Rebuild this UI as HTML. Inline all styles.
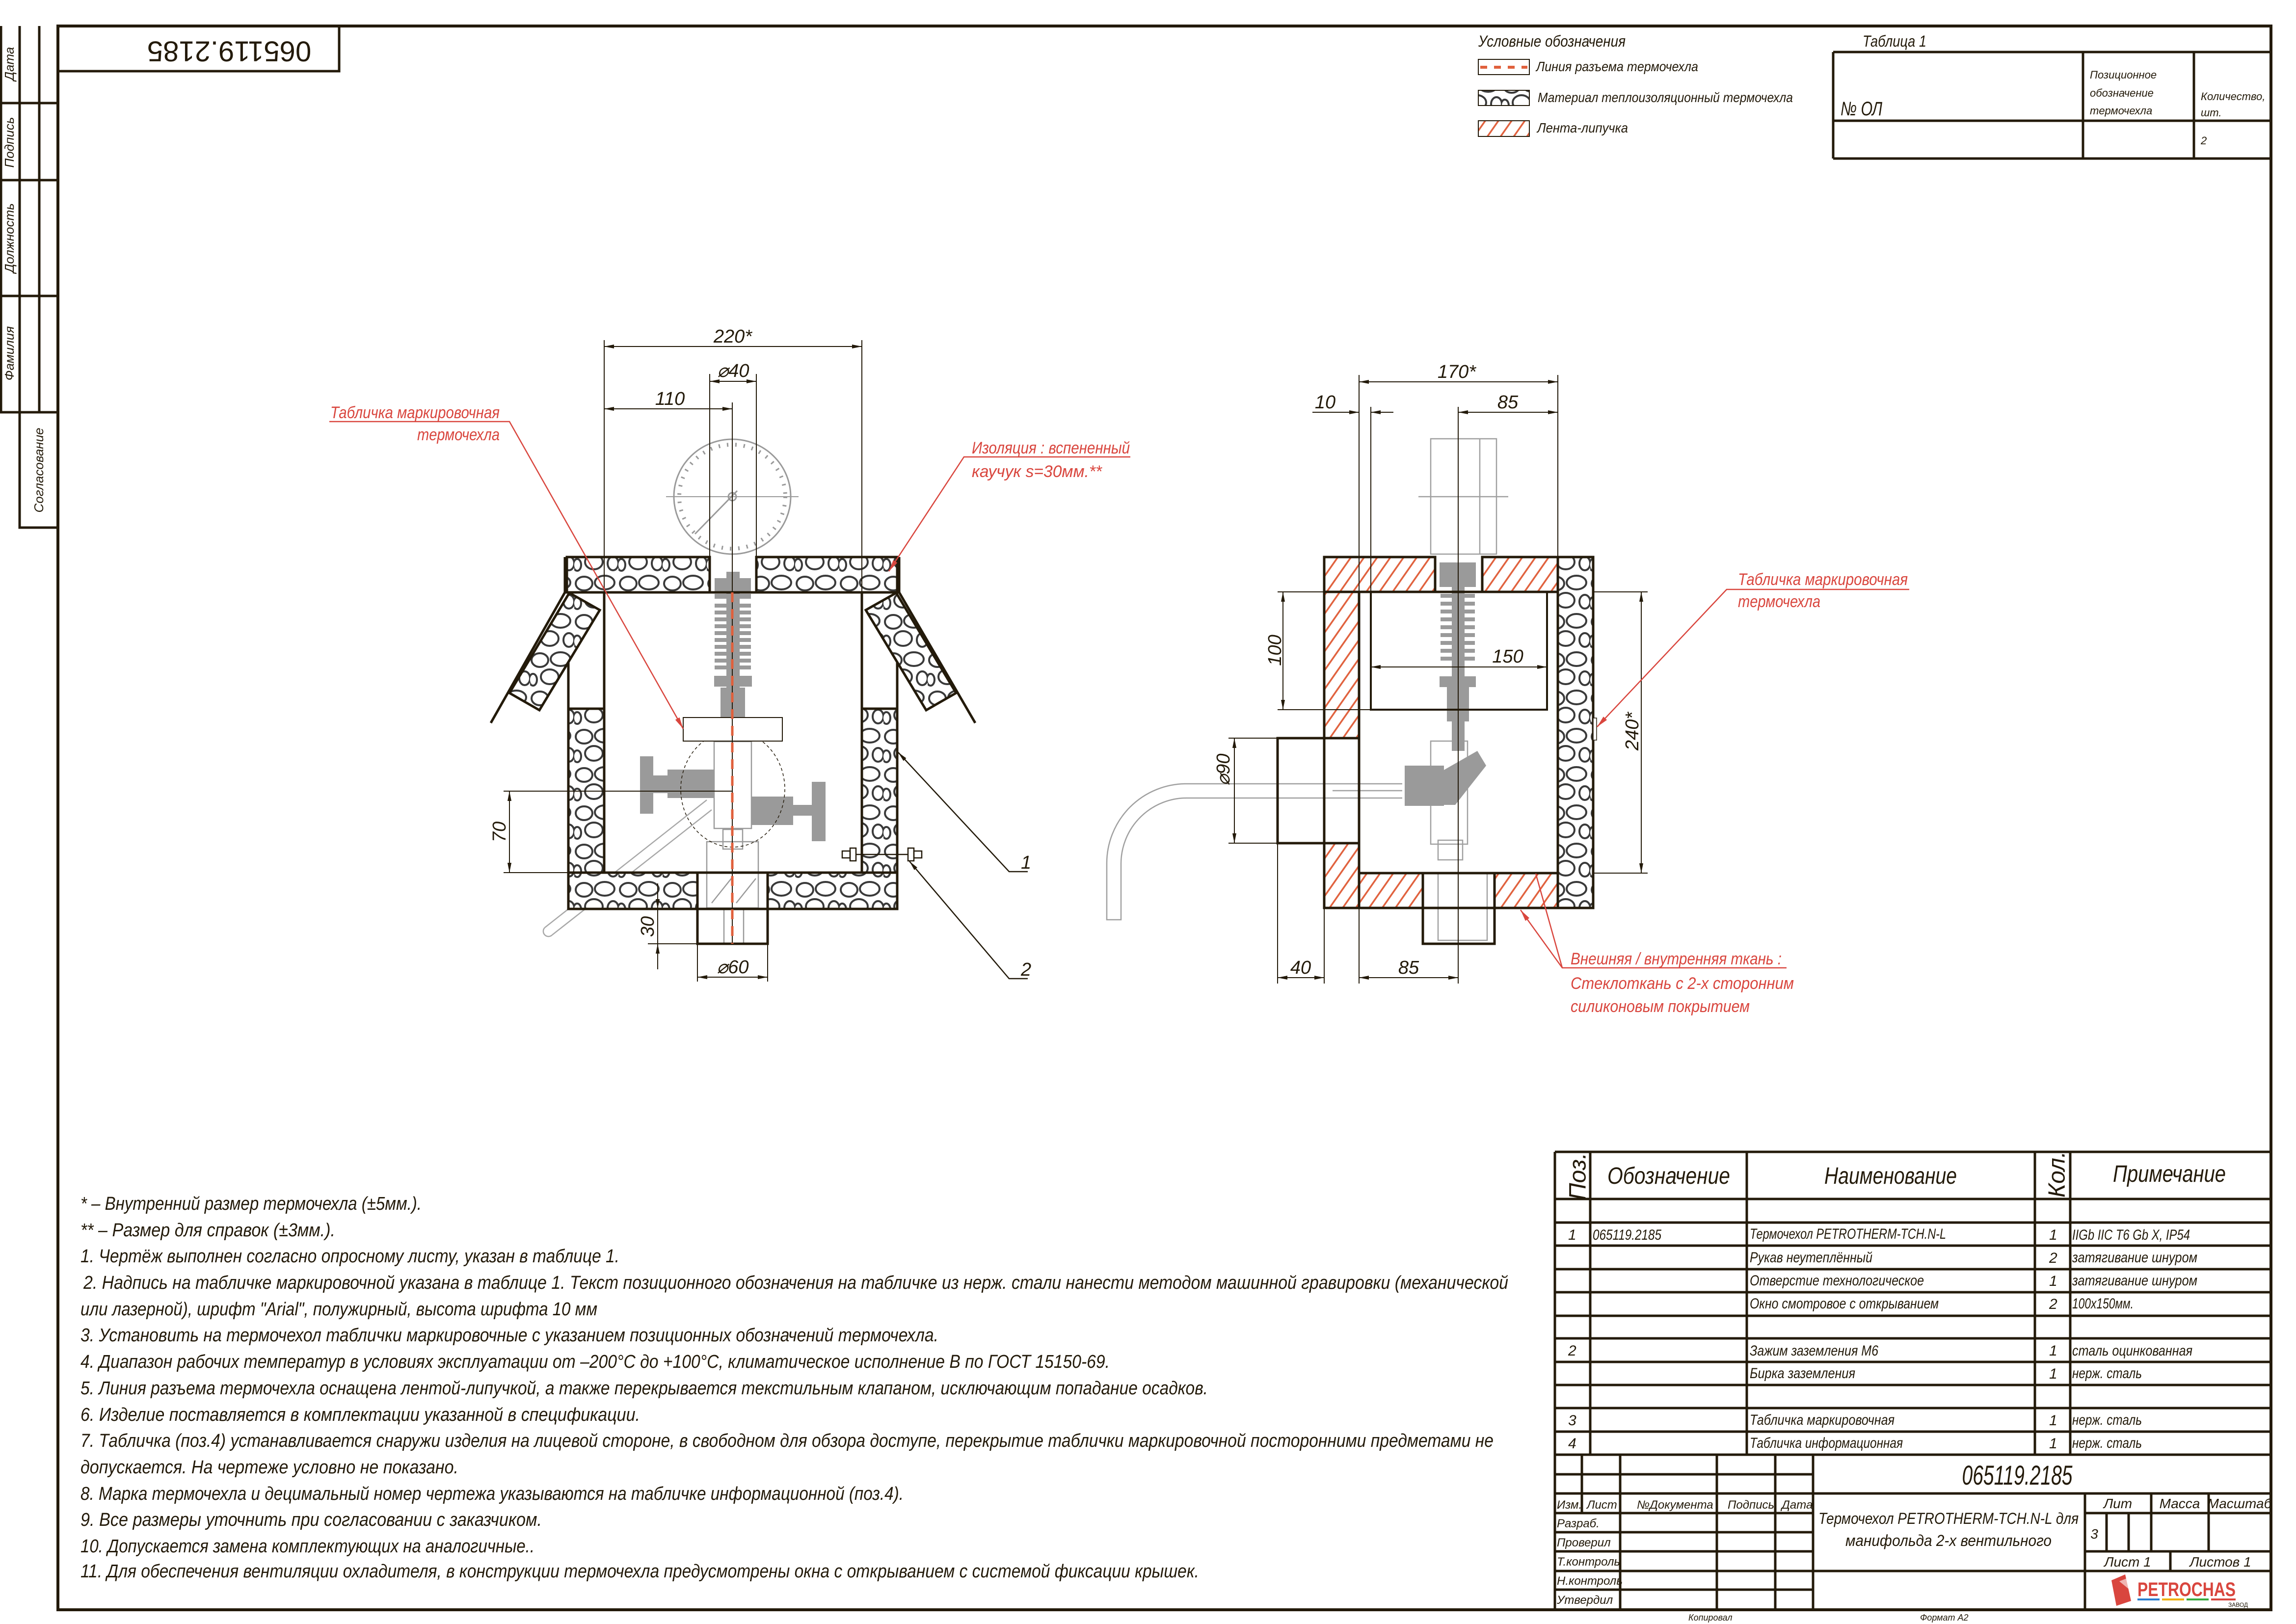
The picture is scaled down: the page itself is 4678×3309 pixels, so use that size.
<!DOCTYPE html>
<html><head><meta charset="utf-8"><style>
html,body{margin:0;padding:0;background:#fff}
svg{display:block}
text{font-family:"Liberation Sans",sans-serif;font-style:italic;fill:#231a0a}
.r{fill:#d9463e}
</style></head><body>
<svg width="4678" height="3309" viewBox="0 0 4678 3309" xmlns="http://www.w3.org/2000/svg">
<defs>
<pattern id="st" width="90" height="78" patternUnits="userSpaceOnUse">
<rect width="90" height="78" fill="#fff"/>
<g fill="none" stroke="#3a3a3a" stroke-width="4">
<ellipse cx="20" cy="19" rx="17" ry="14"/><ellipse cx="62" cy="17" rx="20" ry="14"/><ellipse cx="40" cy="53" rx="18" ry="15"/><ellipse cx="79" cy="56" rx="11" ry="14"/><ellipse cx="6" cy="59" rx="8" ry="12"/></g>
</pattern>
<pattern id="ht" width="22" height="22" patternUnits="userSpaceOnUse" patternTransform="rotate(35)">
<rect width="22" height="22" fill="#fff"/><line x1="2" y1="0" x2="2" y2="22" stroke="#e0603c" stroke-width="3.5"/>
</pattern>
<marker id="a" viewBox="0 0 20 8" refX="20" refY="4" markerWidth="20" markerHeight="8" markerUnits="userSpaceOnUse" orient="auto-start-reverse"><path d="M0,0L20,4L0,8z" fill="#231a0a"/></marker>
<marker id="ar" viewBox="0 0 24 10" refX="24" refY="5" markerWidth="24" markerHeight="10" markerUnits="userSpaceOnUse" orient="auto"><path d="M0,0L24,5L0,10z" fill="#d9463e"/></marker>
</defs>

<!-- frame -->
<g fill="none" stroke="#231a0a">
<rect x="118" y="53" width="4509" height="3227" stroke-width="6"/>
<path d="M2,53V840H118M40,53V1075H118M80,53V840M2,210H118M2,367H118M2,603H118M2,840H118M40,1075H118" stroke-width="5"/>
<rect x="118" y="53" width="573" height="92" stroke-width="5"/>
</g>
<text transform="translate(467,100) rotate(180)" font-size="58" text-anchor="middle" dominant-baseline="middle" style="font-style:normal">065119.2185</text>
<g font-size="26" text-anchor="middle">
<text transform="translate(28,130) rotate(-90)">Дата</text>
<text transform="translate(28,290) rotate(-90)">Подпись</text>
<text transform="translate(28,485) rotate(-90)">Должность</text>
<text transform="translate(28,720) rotate(-90)">Фамилия</text>
<text transform="translate(88,958) rotate(-90)">Согласование</text>
</g>

<!-- legend -->
<text x="3012" y="95" font-size="32" textLength="300" lengthAdjust="spacingAndGlyphs">Условные обозначения</text>
<rect x="3012" y="121" width="104" height="31" fill="#fff" stroke="#231a0a" stroke-width="2"/>
<line x1="3016" y1="137" x2="3112" y2="137" stroke="#e0603c" stroke-width="6" stroke-dasharray="14,14"/>
<rect x="3012" y="184" width="104" height="31" fill="url(#st)" stroke="#231a0a" stroke-width="2"/>
<rect x="3012" y="246" width="104" height="32" fill="url(#ht)" stroke="#231a0a" stroke-width="2"/>
<text x="3130" y="145" font-size="28" textLength="330" lengthAdjust="spacingAndGlyphs">Линия разъема термочехла</text>
<text x="3133" y="208" font-size="28" textLength="520" lengthAdjust="spacingAndGlyphs">Материал теплоизоляционный термочехла</text>
<text x="3132" y="270" font-size="28" textLength="185" lengthAdjust="spacingAndGlyphs">Лента-липучка</text>

<!-- table 1 -->
<text x="3795" y="95" font-size="32" textLength="130" lengthAdjust="spacingAndGlyphs">Таблица 1</text>
<g fill="none" stroke="#231a0a" stroke-width="5">
<path d="M3735,106H4627M3735,246H4627M3735,323H4627M3735,106V323M4244,106V323M4470,106V323"/>
</g>
<text x="3750" y="235" font-size="40" textLength="85" lengthAdjust="spacingAndGlyphs">№ ОЛ</text>
<g font-size="22">
<text x="4258" y="160">Позиционное</text><text x="4258" y="197">обозначение</text><text x="4258" y="233">термочехла</text>
<text x="4484" y="204">Количество,</text><text x="4484" y="237">шт.</text>
<text x="4484" y="294">2</text>
</g>

<!-- ======== LEFT VIEW ======== -->
<g fill="none" stroke="#9a9a9a" stroke-width="3">
<ellipse cx="1492" cy="1012" rx="119" ry="117"/>
<ellipse cx="1492" cy="1012" rx="108" ry="106" stroke-dasharray="3,14" stroke-width="8"/>
<line x1="1357" y1="1012" x2="1627" y2="1012" stroke-width="2"/>
<line x1="1416" y1="1088" x2="1502" y2="1000"/>
<circle cx="1492" cy="1012" r="8"/>
</g>
<g stroke="#a8a8a8" stroke-width="2.5" fill="none">
<path d="M1110,1890L1440,1630M1125,1905L1450,1650"/>
<path d="M1110,1890A10,10 0 0 0 1125,1905"/>
</g>
<g fill="#9a9a9a">
<rect x="1480" y="1165" width="27" height="240"/>
<rect x="1456" y="1178" width="74" height="30"/>
<g>
<rect x="1456" y="1210" width="74" height="10"/><rect x="1456" y="1230" width="74" height="8"/><rect x="1456" y="1244" width="74" height="8"/><rect x="1456" y="1258" width="74" height="8"/><rect x="1456" y="1272" width="74" height="8"/><rect x="1456" y="1286" width="74" height="8"/><rect x="1456" y="1300" width="74" height="8"/><rect x="1456" y="1314" width="74" height="8"/><rect x="1456" y="1328" width="74" height="8"/><rect x="1456" y="1342" width="74" height="8"/><rect x="1456" y="1356" width="74" height="8"/>
</g>
<rect x="1455" y="1377" width="77" height="22"/>
<rect x="1468" y="1401" width="50" height="68"/>
<rect x="1304" y="1541" width="27" height="117"/>
<rect x="1331" y="1580" width="70" height="36"/><rect x="1360" y="1568" width="95" height="58"/>
<rect x="1654" y="1593" width="28" height="121"/>
<rect x="1600" y="1640" width="54" height="22"/><rect x="1531" y="1623" width="85" height="58"/>
</g>
<g fill="none" stroke="#9a9a9a" stroke-width="2.5">
<rect x="1455" y="1511" width="76" height="177"/>
<rect x="1473" y="1690" width="40" height="40"/>
<rect x="1440" y="1715" width="105" height="135"/>
<path d="M1450,1840L1490,1790M1500,1840L1540,1790"/>
<rect x="1475" y="1852" width="40" height="70"/>
</g>
<ellipse cx="1493" cy="1608" rx="106" ry="118" fill="none" stroke="#231a0a" stroke-width="1.5" stroke-dasharray="6,5"/>
<rect x="1392" y="1462" width="202" height="48" fill="#fff" stroke="#231a0a" stroke-width="2"/>

<g stroke="#231a0a" stroke-width="5">
<rect x="1155" y="1135" width="291" height="72" fill="url(#st)"/>
<rect x="1541" y="1135" width="287" height="72" fill="url(#st)"/>
<rect x="1158" y="1444" width="73" height="334" fill="url(#st)"/>
<rect x="1756" y="1444" width="72" height="334" fill="url(#st)"/>
<rect x="1158" y="1778" width="263" height="74" fill="url(#st)"/>
<rect x="1564" y="1778" width="264" height="74" fill="url(#st)"/>
<polygon points="1160,1208 1222,1243 1099,1447 1038,1412" fill="url(#st)"/>
<polygon points="1826,1208 1764,1243 1887,1447 1948,1412" fill="url(#st)"/>
<path d="M1231,1207H1756V1778H1231Z" fill="none"/>
<path d="M1151,1135V1207L1000,1473M1832,1135V1207L1987,1473" fill="none"/>
<path d="M1158,1350V1444M1828,1350V1444" fill="none"/>
<rect x="1421" y="1852" width="143" height="71" fill="none"/>
</g>
<line x1="1492" y1="820" x2="1492" y2="1923" stroke="#231a0a" stroke-width="2"/>
<line x1="1492" y1="1207" x2="1492" y2="1923" stroke="#e0603c" stroke-width="5" stroke-dasharray="20,14"/>
<g fill="none" stroke="#231a0a" stroke-width="2.5">
<rect x="1716" y="1734" width="16" height="14"/><rect x="1732" y="1728" width="12" height="26"/><line x1="1744" y1="1741" x2="1850" y2="1741"/><rect x="1850" y="1728" width="12" height="26"/><rect x="1862" y="1734" width="16" height="14"/>
</g>

<g stroke="#231a0a" stroke-width="2" fill="none">
<path d="M1231,693V1207M1756,693V1207M1446,762V1135M1541,762V1135"/>
<path d="M1231,706H1756" marker-start="url(#a)" marker-end="url(#a)"/>
<path d="M1446,777H1541" marker-start="url(#a)" marker-end="url(#a)"/>
<path d="M1231,833H1492" marker-start="url(#a)" marker-end="url(#a)"/>
<path d="M1026,1612H1492M1026,1778H1160"/>
<path d="M1038,1612V1778" marker-start="url(#a)" marker-end="url(#a)"/>
<path d="M1320,1923H1421"/>
<path d="M1340,1800V1852" marker-end="url(#a)"/>
<path d="M1340,1923V1975" marker-start="url(#a)" />
<path d="M1340,1852V1923"/>
<path d="M1421,1923V2000M1564,1923V2000"/>
<path d="M1421,1991H1564" marker-start="url(#a)" marker-end="url(#a)"/>
</g>
<g font-size="38" text-anchor="middle">
<text x="1493" y="698">220*</text>
<text x="1494" y="768">⌀40</text>
<text x="1365" y="825">110</text>
<text transform="translate(1030,1695) rotate(-90)">70</text>
<text transform="translate(1332,1888) rotate(-90)">30</text>
<text x="1493" y="1983">⌀60</text>
</g>
<g stroke="#231a0a" stroke-width="2.5" fill="none">
<path d="M2094,1776H2056L1830,1533" marker-end="url(#a)"/>
<path d="M2094,1994H2056L1853,1755" marker-end="url(#a)"/>
</g>
<text x="2080" y="1770" font-size="38">1</text>
<text x="2080" y="1988" font-size="38">2</text>
<g stroke="#d9463e" stroke-width="2.5" fill="none">
<path d="M671,859H1038L1392,1485" marker-end="url(#ar)"/>
<path d="M2303,931H1964L1811,1164" marker-end="url(#ar)"/>
</g>
<g font-size="34" class="r">
<text x="673" y="852" class="r" textLength="345" lengthAdjust="spacingAndGlyphs">Табличка маркировочная</text>
<text x="850" y="897" class="r" textLength="168" lengthAdjust="spacingAndGlyphs">термочехла</text>
<text x="1980" y="924" class="r" textLength="322" lengthAdjust="spacingAndGlyphs">Изоляция : вспененный</text>
<text x="1980" y="972" class="r" textLength="265" lengthAdjust="spacingAndGlyphs">каучук  s=30мм.**</text>
</g>

<!-- ======== RIGHT VIEW ======== -->
<g fill="none" stroke="#a0a0a0" stroke-width="2.5">
<rect x="2915" y="894" width="134" height="235"/>
<line x1="3015" y1="894" x2="3015" y2="1129"/>
<line x1="2890" y1="1012" x2="3073" y2="1012"/>
<path d="M2857,1597H2417A162,162 0 0 0 2255,1760V1874H2284V1760A134,134 0 0 1 2420,1626H2857"/>
<line x1="2715" y1="1611" x2="2857" y2="1611"/>
<rect x="2915" y="1510" width="75" height="210"/>
<rect x="2930" y="1712" width="50" height="40"/>
<rect x="2930" y="1779" width="100" height="137"/>
</g>
<g fill="#9a9a9a">
<rect x="2933" y="1146" width="74" height="50"/>
<rect x="2958" y="1190" width="26" height="340"/>
<rect x="2935" y="1210" width="70" height="8"/><rect x="2935" y="1226" width="70" height="8"/><rect x="2935" y="1242" width="70" height="8"/><rect x="2935" y="1258" width="70" height="8"/><rect x="2935" y="1274" width="70" height="8"/><rect x="2935" y="1290" width="70" height="8"/><rect x="2935" y="1306" width="70" height="8"/><rect x="2935" y="1322" width="70" height="8"/><rect x="2935" y="1338" width="70" height="8"/>
<rect x="2933" y="1378" width="74" height="22"/>
<rect x="2948" y="1400" width="45" height="70"/>
<rect x="2862" y="1560" width="80" height="82"/>
<polygon points="2940,1570 3010,1530 3028,1560 2965,1640 2940,1640"/>
</g>
<g stroke="#231a0a" stroke-width="5">
<rect x="2698" y="1135" width="226" height="71" fill="url(#ht)"/>
<rect x="3020" y="1135" width="154" height="71" fill="url(#ht)"/>
<rect x="2698" y="1206" width="71" height="298" fill="url(#ht)"/>
<rect x="2698" y="1718" width="71" height="132" fill="url(#ht)"/>
<rect x="2769" y="1779" width="130" height="71" fill="url(#ht)"/>
<rect x="3045" y="1779" width="129" height="71" fill="url(#ht)"/>
<rect x="3174" y="1135" width="72" height="715" fill="url(#st)"/>
<path d="M2769,1206H3174V1779H2769Z" fill="none"/>
<path d="M2924,1135V1206M3020,1135V1206" fill="none"/>
<rect x="2603" y="1504" width="166" height="214" fill="none"/>
<line x1="2698" y1="1504" x2="2698" y2="1718"/>
<rect x="2899" y="1850" width="146" height="73" fill="none"/>
<line x1="2899" y1="1779" x2="2899" y2="1850"/><line x1="3045" y1="1779" x2="3045" y2="1850"/>
<rect x="2793" y="1206" width="359" height="240" fill="none" stroke-width="4"/>
</g>
<rect x="3246" y="1463" width="7" height="45" fill="#fff" stroke="#231a0a" stroke-width="1.5"/>
<g stroke="#231a0a" stroke-width="2" fill="none">
<path d="M2769,764V1206M3174,764V1135M2793,829V1206M2971,829V2004"/>
<path d="M2769,778H3174" marker-start="url(#a)" marker-end="url(#a)"/>
<path d="M2674,840H2769" marker-end="url(#a)"/>
<path d="M2839,840H2793" marker-end="url(#a)"/>
<path d="M2971,840H3174" marker-start="url(#a)" marker-end="url(#a)"/>
<path d="M2603,1206H2769M2603,1446H2793"/>
<path d="M2614,1206V1446" marker-start="url(#a)" marker-end="url(#a)"/>
<path d="M2793,1359H3152" marker-start="url(#a)" marker-end="url(#a)"/>
<path d="M2503,1504H2603M2503,1718H2603"/>
<path d="M2515,1504V1718" marker-start="url(#a)" marker-end="url(#a)"/>
<path d="M3246,1206H3357M3246,1779H3357"/>
<path d="M3344,1206V1779" marker-start="url(#a)" marker-end="url(#a)"/>
<path d="M2603,1718V2004M2698,1850V2004M2769,1850V2004"/>
<path d="M2603,1992H2698" marker-start="url(#a)" marker-end="url(#a)"/>
<path d="M2769,1992H2971" marker-start="url(#a)" marker-end="url(#a)"/>
</g>
<g font-size="38" text-anchor="middle">
<text x="2968" y="770">170*</text>
<text x="2700" y="832">10</text>
<text x="3072" y="832">85</text>
<text transform="translate(2610,1325) rotate(-90)">100</text>
<text x="3072" y="1350">150</text>
<text transform="translate(2505,1568) rotate(-90)">⌀90</text>
<text transform="translate(3338,1490) rotate(-90)">240*</text>
<text x="2650" y="1984">40</text>
<text x="2870" y="1984">85</text>
</g>
<g stroke="#d9463e" stroke-width="2.5" fill="none">
<path d="M3890,1201H3518L3254,1481" marker-end="url(#ar)"/>
<path d="M3640,1972H3183L3098,1854" marker-end="url(#ar)"/>
<path d="M3183,1972L3129,1780"/>
</g>
<text x="3541" y="1192" font-size="34" class="r" textLength="346" lengthAdjust="spacingAndGlyphs">Табличка маркировочная</text>
<text x="3541" y="1237" font-size="34" class="r" textLength="168" lengthAdjust="spacingAndGlyphs">термочехла</text>
<text x="3200" y="1965" font-size="34" class="r" textLength="430" lengthAdjust="spacingAndGlyphs">Внешняя / внутренняя ткань :</text>
<text x="3200" y="2015" font-size="34" class="r" textLength="455" lengthAdjust="spacingAndGlyphs">Стеклоткань с  2-х сторонним</text>
<text x="3200" y="2062" font-size="34" class="r" textLength="365" lengthAdjust="spacingAndGlyphs">силиконовым покрытием</text>

<!-- notes -->
<g font-size="38">
<text x="164" y="2465" textLength="695" lengthAdjust="spacingAndGlyphs">* – Внутренний размер термочехла (±5мм.).</text>
<text x="164" y="2519" textLength="519" lengthAdjust="spacingAndGlyphs">** – Размер для справок (±3мм.).</text>
<text x="164" y="2572" textLength="1098" lengthAdjust="spacingAndGlyphs">1. Чертёж выполнен согласно опросному листу, указан в таблице 1.</text>
<text x="170" y="2626" textLength="2903" lengthAdjust="spacingAndGlyphs">2. Надпись на табличке маркировочной указана в таблице 1. Текст позиционного обозначения на табличке из нерж. стали нанести методом машинной гравировки (механической</text>
<text x="164" y="2680" textLength="1053" lengthAdjust="spacingAndGlyphs">или лазерной), шрифт "Arial", полужирный, высота шрифта 10 мм</text>
<text x="164" y="2733" textLength="1748" lengthAdjust="spacingAndGlyphs">3. Установить на термочехол таблички маркировочные с указанием позиционных обозначений термочехла.</text>
<text x="164" y="2787" textLength="2097" lengthAdjust="spacingAndGlyphs">4. Диапазон рабочих температур в условиях эксплуатации от –200°С до +100°С, климатическое исполнение В по ГОСТ 15150-69.</text>
<text x="164" y="2841" textLength="2297" lengthAdjust="spacingAndGlyphs">5. Линия разъема термочехла оснащена лентой-липучкой, а также перекрывается текстильным клапаном, исключающим попадание осадков.</text>
<text x="164" y="2895" textLength="1140" lengthAdjust="spacingAndGlyphs">6. Изделие поставляется в комплектации указанной в спецификации.</text>
<text x="164" y="2948" textLength="2879" lengthAdjust="spacingAndGlyphs">7. Табличка (поз.4) устанавливается снаружи изделия на лицевой стороне, в свободном для обзора доступе, перекрытие таблички маркировочной посторонними предметами не</text>
<text x="164" y="3002" textLength="770" lengthAdjust="spacingAndGlyphs">допускается. На чертеже условно не показано.</text>
<text x="164" y="3056" textLength="1677" lengthAdjust="spacingAndGlyphs">8. Марка термочехла и децимальный номер чертежа указываются на табличке информационной (поз.4).</text>
<text x="164" y="3109" textLength="940" lengthAdjust="spacingAndGlyphs">9. Все размеры уточнить при согласовании с заказчиком.</text>
<text x="164" y="3163" textLength="925" lengthAdjust="spacingAndGlyphs">10. Допускается замена комплектующих на аналогичные..</text>
<text x="164" y="3214" textLength="2279" lengthAdjust="spacingAndGlyphs">11. Для обеспечения вентиляции охладителя, в конструкции термочехла предусмотрены окна с открыванием с системой фиксации крышек.</text>
</g>

<!-- spec table -->
<g stroke="#231a0a" stroke-width="5" fill="none">
<path d="M3168,2347H4626M3168,2347V3279M3240,2347V2964M3559,2347V2964M4146,2347V2964M4218,2347V2964"/>
<path d="M3168,2443H4626M3168,2491H4626M3168,2538H4626M3168,2586H4626M3168,2633H4626M3168,2681H4626M3168,2727H4626M3168,2775H4626M3168,2822H4626M3168,2869H4626M3168,2917H4626M3168,2964H4626"/>
<path d="M3168,3004H3694M3168,3043H4626M3168,3083H3694M3168,3122H3694M3168,3161H3694M3168,3201H3694M3168,3239H3694M3248,3201H4626"/>
<path d="M3223,2964V3083M3301,2964V3279M3498,2964V3279M3617,2964V3279M3694,2964V3279M4248,3043V3279"/>
<path d="M4248,3083H4626M4383,3043V3161M4500,3043V3161M4292,3083V3161M4337,3083V3161M4248,3161H4626M4422,3161V3201"/>
</g>
<g font-size="48" text-anchor="middle">
<text transform="translate(3218,2397) rotate(-90)" dominant-baseline="middle" text-anchor="middle">Поз.</text>
<text x="3400" y="2412" textLength="250" lengthAdjust="spacingAndGlyphs">Обозначение</text>
<text x="3852" y="2412" textLength="270" lengthAdjust="spacingAndGlyphs">Наименование</text>
<text transform="translate(4194,2393) rotate(-90)" dominant-baseline="middle" text-anchor="middle">Кол.</text>
<text x="4420" y="2408" textLength="230" lengthAdjust="spacingAndGlyphs">Примечание</text>
</g>
<g font-size="30">
<text x="3195" y="2526">1</text><text x="3245" y="2526" textLength="140" lengthAdjust="spacingAndGlyphs">065119.2185</text>
<text x="3565" y="2524" textLength="400" lengthAdjust="spacingAndGlyphs">Термочехол PETROTHERM-TCH.N-L</text><text x="4175" y="2526">1</text><text x="4222" y="2526" textLength="240" lengthAdjust="spacingAndGlyphs">IIGb IIC T6 Gb X, IP54</text>
<text x="3565" y="2572" textLength="250" lengthAdjust="spacingAndGlyphs">Рукав неутеплённый</text><text x="4175" y="2573">2</text><text x="4222" y="2572" textLength="255" lengthAdjust="spacingAndGlyphs">затягивание шнуром</text>
<text x="3565" y="2619" textLength="355" lengthAdjust="spacingAndGlyphs">Отверстие технологическое</text><text x="4175" y="2620">1</text><text x="4222" y="2619" textLength="255" lengthAdjust="spacingAndGlyphs">затягивание шнуром</text>
<text x="3565" y="2666" textLength="385" lengthAdjust="spacingAndGlyphs">Окно смотровое с открыванием</text><text x="4175" y="2667">2</text><text x="4222" y="2666" textLength="125" lengthAdjust="spacingAndGlyphs">100х150мм.</text>
<text x="3195" y="2762">2</text><text x="3565" y="2762" textLength="262" lengthAdjust="spacingAndGlyphs">Зажим заземления М6</text><text x="4175" y="2762">1</text><text x="4222" y="2762" textLength="245" lengthAdjust="spacingAndGlyphs">сталь оцинкованная</text>
<text x="3565" y="2808" textLength="215" lengthAdjust="spacingAndGlyphs">Бирка заземления</text><text x="4175" y="2809">1</text><text x="4222" y="2808" textLength="142" lengthAdjust="spacingAndGlyphs">нерж. сталь</text>
<text x="3195" y="2904">3</text><text x="3565" y="2903" textLength="295" lengthAdjust="spacingAndGlyphs">Табличка маркировочная</text><text x="4175" y="2904">1</text><text x="4222" y="2903" textLength="142" lengthAdjust="spacingAndGlyphs">нерж. сталь</text>
<text x="3195" y="2951">4</text><text x="3565" y="2950" textLength="312" lengthAdjust="spacingAndGlyphs">Табличка информационная</text><text x="4175" y="2951">1</text><text x="4222" y="2950" textLength="142" lengthAdjust="spacingAndGlyphs">нерж. сталь</text>
</g>
<text x="4110" y="3025" font-size="56" text-anchor="middle" textLength="225" lengthAdjust="spacingAndGlyphs">065119.2185</text>
<g font-size="24">
<text x="3172" y="3074">Изм.</text><text x="3233" y="3074">Лист</text><text x="3335" y="3074">№Документа</text><text x="3520" y="3074">Подпись</text><text x="3630" y="3074">Дата</text>
<text x="3172" y="3112">Разраб.</text><text x="3172" y="3151">Проверил</text><text x="3172" y="3190">Т.контроль</text><text x="3172" y="3229">Н.контроль</text><text x="3172" y="3268">Утвердил</text>
</g>
<g font-size="32" text-anchor="middle">
<text x="3970" y="3105" textLength="530" lengthAdjust="spacingAndGlyphs">Термочехол PETROTHERM-TCH.N-L для</text>
<text x="3970" y="3150" textLength="420" lengthAdjust="spacingAndGlyphs">манифольда 2-х вентильного</text>
</g>
<g font-size="28" text-anchor="middle">
<text x="4315" y="3073">Лит</text><text x="4441" y="3073">Масса</text><text x="4563" y="3073">Масштаб</text>
<text x="4267" y="3135">3</text>
<text x="4335" y="3192">Лист 1</text><text x="4524" y="3192">Листов 1</text>
</g>
<polygon points="4302,3220 4330,3208 4342,3262 4312,3272" fill="#d9463e"/>
<polygon points="4318,3222 4338,3214 4340,3240" fill="#fff" opacity="0.6"/>
<text x="4355" y="3252" font-size="40" style="font-style:normal;font-weight:bold;fill:#d9463e" textLength="200" lengthAdjust="spacingAndGlyphs">PETROCHAS</text>
<rect x="4355" y="3257" width="45" height="4" fill="#2a7fd0"/><rect x="4405" y="3257" width="45" height="4" fill="#f0b000"/><rect x="4455" y="3257" width="45" height="4" fill="#3aaa40"/><rect x="4505" y="3257" width="50" height="4" fill="#d9463e"/>
<text x="4540" y="3274" font-size="12" style="font-style:normal">ЗАВОД</text>
<text x="3440" y="3302" font-size="18">Копировал</text>
<text x="3912" y="3302" font-size="18">Формат А2</text>
</svg>
</body></html>
